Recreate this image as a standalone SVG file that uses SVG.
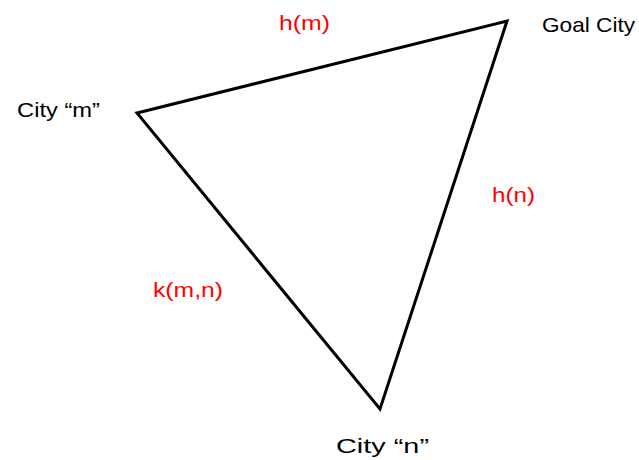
<svg xmlns="http://www.w3.org/2000/svg" width="639" height="460" viewBox="0 0 639 460">
<style>
text{font-family:"Liberation Sans","Open Sans",sans-serif;font-size:21px}
.lbl{fill:#000}
.edge{fill:#ff0000}
.line{fill:none;stroke:#000;stroke-width:3;stroke-linejoin:miter}
</style>
<rect width="639" height="460" fill="#fff"/>
<g id="connectors">
<polygon class="line" points="137,113 507,21 380,409"/>
<text class="edge" x="279" y="30" textLength="51" lengthAdjust="spacingAndGlyphs">h(m)</text>
<text class="edge" x="492" y="202" textLength="43" lengthAdjust="spacingAndGlyphs">h(n)</text>
<text class="edge" x="153" y="297" textLength="70" lengthAdjust="spacingAndGlyphs">k(m,n)</text>
</g>
<g id="node-m"><text class="lbl" x="17" y="117" textLength="83" lengthAdjust="spacingAndGlyphs">City “m”</text></g>
<g id="node-goal"><text class="lbl" x="542" y="32" textLength="93" lengthAdjust="spacingAndGlyphs">Goal City</text></g>
<g id="node-n"><text class="lbl" x="336" y="453" textLength="93" lengthAdjust="spacingAndGlyphs">City “n”</text></g>
</svg>
